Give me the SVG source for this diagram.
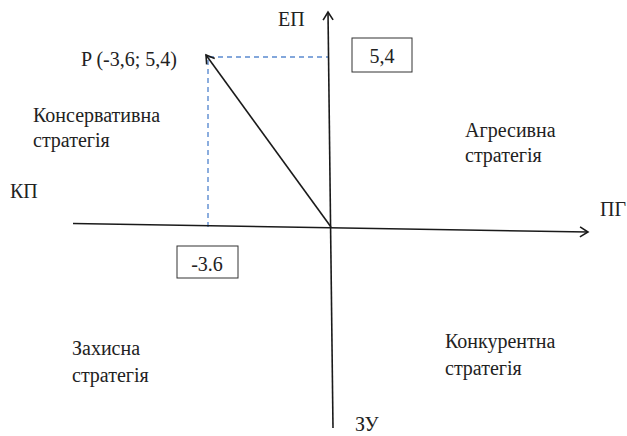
<svg xmlns="http://www.w3.org/2000/svg" width="627" height="436" viewBox="0 0 627 436">
<style>
text{font-family:'Liberation Serif','Times New Roman',serif;font-size:20px;fill:#222}
.ax{stroke:#1a1a1a;stroke-width:1.6;fill:none}
.dash{stroke:#5b8bd0;stroke-width:1.4;stroke-dasharray:5,4;fill:none}
.box{fill:#fff;stroke:#333;stroke-width:1}
</style>
<defs>
<marker id="ah" markerWidth="12" markerHeight="12" refX="9" refY="6" orient="auto" markerUnits="userSpaceOnUse">
<path d="M1,1 L9,6 L1,11" fill="none" stroke="#1a1a1a" stroke-width="1.6"/>
</marker>
</defs>
<g id="connectors">
<path class="dash" d="M208,227 L208,57 L328,57"/>
<path class="ax" d="M73,223.5 L588,232" marker-end="url(#ah)"/>
<path class="ax" d="M333,428 L328,12" marker-end="url(#ah)"/>
<path class="ax" d="M331,227 L206,55" marker-end="url(#ah)"/>
</g>
<g id="box54"><rect class="box" x="352" y="38" width="60" height="34"/><text x="382" y="63" text-anchor="middle">5,4</text></g>
<g id="box36"><rect class="box" x="177" y="246" width="61" height="32"/><text x="207" y="271" text-anchor="middle">-3.6</text></g>
<g id="labelEP"><text x="278" y="26">ЕП</text></g>
<g id="labelZU"><text x="355" y="431">ЗУ</text></g>
<g id="labelKP"><text x="10" y="198">КП</text></g>
<g id="labelPG"><text x="600" y="216">ПГ</text></g>
<g id="pointP"><text x="81" y="66">P (-3,6; 5,4)</text></g>
<g id="q-conservative"><text x="33" y="122">Консервативна</text><text x="33" y="147">стратегія</text></g>
<g id="q-aggressive"><text x="465" y="137">Агресивна</text><text x="465" y="162">стратегія</text></g>
<g id="q-defensive"><text x="72" y="355">Захисна</text><text x="72" y="382">стратегія</text></g>
<g id="q-competitive"><text x="445" y="348">Конкурентна</text><text x="445" y="375">стратегія</text></g>
</svg>
